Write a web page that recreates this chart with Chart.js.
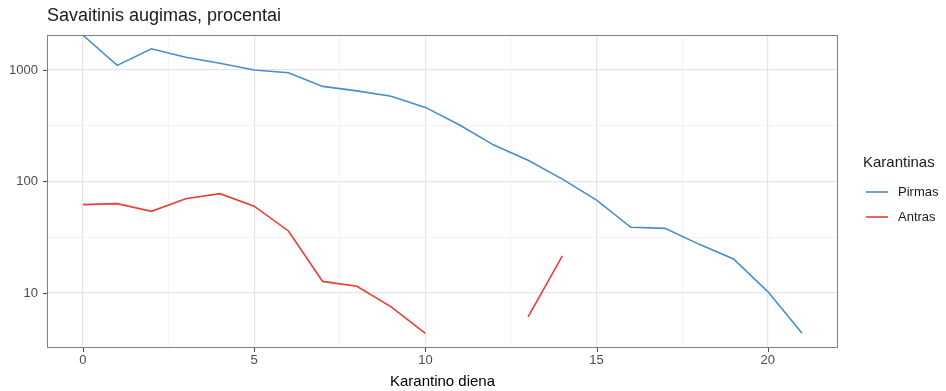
<!DOCTYPE html>
<html>
<head>
<meta charset="utf-8">
<script src="https://cdn.jsdelivr.net/npm/chart.js@4/dist/chart.umd.min.js"></script>
<style>
  html, body { margin: 0; padding: 0; background: #fff; }
  #wrap { width: 946px; height: 391px; position: relative; }
</style>
</head>
<body>
<div id="wrap"><canvas id="growthChart" width="946" height="391"></canvas></div>
<script>
// dienos nuo karantino pradzios
const days = [0, 1, 2, 3, 4, 5, 6, 7, 8, 9, 10, 11, 12, 13, 14, 15, 16, 17, 18, 19, 20, 21];
// pirmas karantinas
const pirmas = [2050, 1100, 1550, 1300, 1150, 1000, 946, 713, 650, 581, 462, 321, 212, 155, 105, 68, 38.8, 38, 27.3, 20.2, 10.3, 4.35];
// antras karantinas (11-12 d. nera duomenu)
const antras = [62, 63.3, 54, 70, 77.8, 60, 36, 12.7, 11.5, 7.5, 4.35, null, null, 6.1, 21.5, null, null, null, null, null, null, null];
const seriesNames = ['Pirmas', 'Antras'];
const xMajor = [0, 5, 10, 15, 20];
const xMinor = [2.5, 7.5, 12.5, 17.5];
const yMajor = [10, 100, 1000];
const yMinor = [31.62, 316.2];

const colors = ['#4a8ccb', '#ee3a36'];
const FONT = '"Liberation Sans", Arial, sans-serif';

function toPoints(vals) {
    return days.map((d, i) => ({x: d, y: vals[i]}));
}

// remelis, asiu bruksneliai, antraste ir legenda kaip ggplot
const ggDecor = {
    id: 'ggDecor',
    afterDraw(chart) {
        const ctx = chart.ctx;
        const a = chart.chartArea;
        ctx.save();
        ctx.strokeStyle = '#7f7f7f';
        ctx.lineWidth = 1;
        ctx.strokeRect(a.left + 0.5, a.top + 0.5, a.right - a.left - 1, a.bottom - a.top - 1);

        // tick marks
        ctx.strokeStyle = '#4d4d4d';
        ctx.beginPath();
        xMajor.forEach(v => {
            const px = Math.round(chart.scales.x.getPixelForValue(v)) + 0.5;
            ctx.moveTo(px, a.bottom);
            ctx.lineTo(px, a.bottom + 4);
        });
        yMajor.forEach(v => {
            const py = Math.round(chart.scales.y.getPixelForValue(v)) + 0.5;
            ctx.moveTo(a.left - 4, py);
            ctx.lineTo(a.left, py);
        });
        ctx.stroke();

        ctx.fillStyle = '#1a1a1a';
        ctx.font = '18px ' + FONT;
        ctx.textBaseline = 'middle';
        ctx.textAlign = 'left';
        ctx.fillText('Savaitinis augimas, procentai', 47, 16);

        ctx.font = '15px ' + FONT;
        ctx.fillText('Karantinas', 863, 163);
        ctx.font = '13px ' + FONT;
        chart.data.datasets.forEach((ds, i) => {
            const y = 192 + i * 25;
            ctx.strokeStyle = ds.borderColor;
            ctx.lineWidth = 1.6;
            ctx.beginPath();
            ctx.moveTo(866, y);
            ctx.lineTo(888, y);
            ctx.stroke();
            ctx.fillStyle = '#1a1a1a';
            ctx.fillText(ds.label, 898, y);
        });
        ctx.restore();
    }
};

new Chart(document.getElementById('growthChart'), {
    type: 'line',
    data: {
        datasets: [
            {label: seriesNames[0], data: toPoints(pirmas), borderColor: colors[0], borderWidth: 1.6, pointRadius: 0, spanGaps: false, tension: 0},
            {label: seriesNames[1], data: toPoints(antras), borderColor: colors[1], borderWidth: 1.6, pointRadius: 0, spanGaps: false, tension: 0}
        ]
    },
    options: {
        responsive: false,
        animation: false,
        layout: {padding: {top: 35, right: 108, left: 0, bottom: 0}},
        plugins: {legend: {display: false}, tooltip: {enabled: false}, title: {display: false}},
        scales: {
            x: {
                type: 'linear',
                min: -1.05,
                max: 22.05,
                afterBuildTicks: axis => {
                    axis.ticks = xMajor.concat(xMinor).map(v => ({value: v}));
                },
                afterFit: axis => { axis.height = 43; },
                ticks: {
                    autoSkip: false,
                    maxRotation: 0,
                    padding: 1,
                    color: '#4d4d4d',
                    font: {family: FONT, size: 13},
                    callback: v => xMajor.includes(v) ? String(v) : ''
                },
                grid: {
                    color: ctx => xMajor.includes(ctx.tick.value) ? '#e5e5e5' : '#f0f0f0',
                    lineWidth: ctx => xMajor.includes(ctx.tick.value) ? 1.2 : 0.8,
                    tickColor: 'rgba(0,0,0,0)',
                    tickLength: 4
                },
                border: {display: false},
                title: {display: true, text: 'Karantino diena', color: '#000', font: {family: FONT, size: 15}, padding: {top: 0, bottom: 0}}
            },
            y: {
                type: 'logarithmic',
                min: 3.21,
                max: 2060,
                afterBuildTicks: axis => {
                    axis.ticks = yMajor.concat(yMinor).map(v => ({value: v}));
                },
                afterFit: axis => { axis.width = 47; },
                ticks: {
                    autoSkip: false,
                    padding: 5,
                    color: '#4d4d4d',
                    font: {family: FONT, size: 13},
                    callback: v => yMajor.includes(v) ? String(v) : ''
                },
                grid: {
                    color: ctx => yMajor.includes(ctx.tick.value) ? '#e5e5e5' : '#f0f0f0',
                    lineWidth: ctx => yMajor.includes(ctx.tick.value) ? 1.2 : 0.8,
                    tickColor: 'rgba(0,0,0,0)',
                    tickLength: 4
                },
                border: {display: false}
            }
        }
    },
    plugins: [ggDecor]
});
</script>
</body>
</html>
